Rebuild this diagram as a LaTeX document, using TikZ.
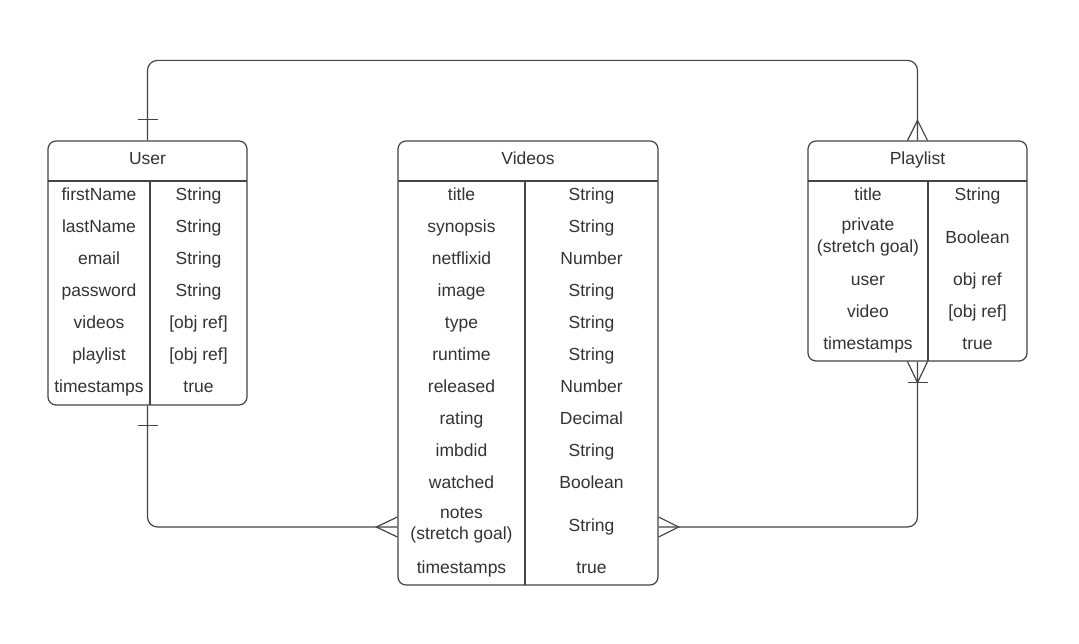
\documentclass[tikz,border=0pt]{standalone}
\usepackage{fontspec}
\setmainfont{Liberation Sans}
\definecolor{ink}{HTML}{333333}
\definecolor{edge}{HTML}{444444}
\begin{document}
\begin{tikzpicture}[x=1pt,y=-1pt,
  txt/.style={font=\fontsize{17.5}{21.5}\selectfont, text=ink, align=center, inner sep=0pt},
  btxt/.style={txt, anchor=base},
  box/.style={draw=edge, line width=1.2pt, rounded corners=8pt, inner sep=0pt},
  conn/.style={draw=edge, line width=1.2pt, rounded corners=10pt},
  endmark/.style={draw=edge, line width=1.2pt},
  rule/.style={draw=edge, line width=1.2pt}]

\path[use as bounding box, fill=white] (0,0) rectangle (1079,644);

% entity boxes
\node[box, minimum width=199pt, minimum height=264pt] (user) at (147.5,273) {};
\node[box, minimum width=260pt, minimum height=444pt] (videos) at (528,363) {};
\node[box, minimum width=219pt, minimum height=220pt] (playlist) at (917.5,251) {};

% header rules and column dividers
\draw[rule] (48,181) -- (247,181);
\draw[rule] (150,181) -- (150,405);
\draw[rule] (398,181) -- (658,181);
\draw[rule] (525,181) -- (525,585);
\draw[rule] (808,181) -- (1027,181);
\draw[rule] (928,181) -- (928,361);

% headers
\node[btxt] (userH) at (147.5,165) {User};
\node[btxt] (videosH) at (528,165) {Videos};
\node[btxt] (playlistH) at (917.5,165) {Playlist};

% User rows
\foreach \k/\a/\b/\y in {1/firstName/String/194, 2/lastName/String/226, 3/email/String/258,
  4/password/String/290, 5/videos/[obj ref]/322, 6/playlist/[obj ref]/354, 7/timestamps/true/386}{
  \node[btxt] (uL\k) at (99,\y+6.5) {\a};
  \node[btxt] (uR\k) at (198.5,\y+6.5) {\b};
}

% Videos rows
\foreach \k/\a/\b/\y in {1/title/String/194, 2/synopsis/String/226, 3/netflixid/Number/258,
  4/image/String/290, 5/type/String/322, 6/runtime/String/354, 7/released/Number/386,
  8/rating/Decimal/418, 9/imbdid/String/450, 10/watched/Boolean/482, 12/timestamps/true/567}{
  \node[btxt] (vL\k) at (461.5,\y+6.5) {\a};
  \node[btxt] (vR\k) at (591.5,\y+6.5) {\b};
}
\node[txt] (vL11) at (461.5,525) {notes\\(stretch goal)};
\node[btxt] (vR11) at (591.5,531.5) {String};

% Playlist rows
\foreach \k/\a/\b/\y in {1/title/String/194, 3/user/obj ref/279, 4/video/[obj ref]/311, 5/timestamps/true/343}{
  \node[btxt] (pL\k) at (868,\y+6.5) {\a};
  \node[btxt] (pR\k) at (977.5,\y+6.5) {\b};
}
\node[txt] (pL2) at (868,237) {private\\(stretch goal)};
\node[btxt] (pR2) at (977.5,243.5) {Boolean};

% connectors
\draw[conn] (user.north) -- ++(0,-80) -| (playlist.north);
\draw[conn] (user.south) |- ([yshift=-164pt]videos.west);
\draw[conn] (playlist.south) |- ([yshift=-164pt]videos.east);

% end markers
\draw[endmark] ([shift={(-10pt,21pt)}]user.north) -- ++(20,0);
\draw[endmark] ([xshift=-10pt]playlist.north) -- ([yshift=20pt]playlist.north) -- ([xshift=10pt]playlist.north);
\draw[endmark] ([shift={(-10pt,-20pt)}]user.south) -- ++(20,0);
\draw[endmark] ([yshift=-154pt]videos.west) -- ([shift={(-21pt,-164pt)}]videos.west) -- ([yshift=-174pt]videos.west);
\draw[endmark] ([yshift=-154pt]videos.east) -- ([shift={(20pt,-164pt)}]videos.east) -- ([yshift=-174pt]videos.east);
\draw[endmark] ([xshift=-10pt]playlist.south) -- ([yshift=-21pt]playlist.south) -- ([xshift=10pt]playlist.south);
\draw[endmark] ([shift={(-10pt,-21pt)}]playlist.south) -- ++(20,0);
\end{tikzpicture}
\end{document}
